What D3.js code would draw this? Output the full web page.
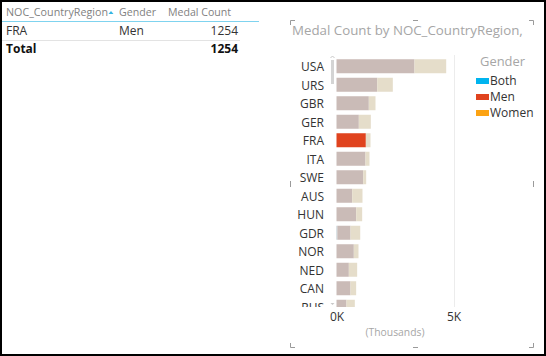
<!DOCTYPE html>
<html>
<head>
<meta charset="utf-8">
<script src="https://cdn.jsdelivr.net/npm/d3@7/dist/d3.min.js"></script>
<style>
  html, body { margin: 0; padding: 0; background: #fff; }
  svg { display: block; font-family: "Segoe UI", "Open Sans", sans-serif; }
</style>
</head>
<body>
<svg id="chart" width="546" height="356"></svg>
<script>
// ---- data ----
const countries = ["USA","URS","GBR","GER","FRA","ITA","SWE","AUS","HUN","GDR","NOR","NED","CAN","RUS"];
const bothValues  = [0,0,0,0,0,0,0,0,0,40,0,0,0,0];
const menValues   = [3333,1739,1381,954,1254,1239,1140,670,840,560,740,527,598,427];
const womenValues = [1355,668,286,513,199,171,128,441,257,414,200,356,242,356];
const genders = ["Both","Men","Women"];
const xTickValues = [0, 5000];
const selectedCountry = "FRA";
const selectedGender = "Men";
const tableHeaders = ["NOC_CountryRegion","Gender","Medal Count"];
const tableRow = ["FRA","Men","1254"];
const tableTotal = ["Total","","1254"];
const chartTitle = "Medal Count by NOC_CountryRegion,";
const axisTitle = "(Thousands)";

const fullColor = {Both:"#00b4ef", Men:"#e0431e", Women:"#fca313"};
const dimColor  = {Both:"#b7c6cc", Men:"#cabbb7", Women:"#e5ddca"};

const svg = d3.select("#chart");

function fitWidth(sel, w) {
  const node = sel.node();
  const cur = parseFloat(sel.attr("font-size"));
  const len = node.getComputedTextLength();
  if (len > 0) sel.attr("font-size", (cur * w / len).toFixed(2));
  return sel;
}

// outer frame
svg.append("rect").attr("x",1).attr("y",1).attr("width",544).attr("height",354)
  .attr("fill","#fff").attr("stroke","#000").attr("stroke-width",2);

// ---- table ----
const tbl = svg.append("g");
fitWidth(tbl.append("text").attr("x",6).attr("y",16).attr("font-size",12).attr("fill","#7f7f7f").text(tableHeaders[0]), 102);
tbl.append("path").attr("d","M108.5,14 L111,11 L113.5,14 Z").attr("fill","#34b6e4");
fitWidth(tbl.append("text").attr("x",119).attr("y",16).attr("font-size",12).attr("fill","#7f7f7f").text(tableHeaders[1]), 37);
fitWidth(tbl.append("text").attr("x",231).attr("y",16).attr("font-size",12).attr("text-anchor","end").attr("fill","#7f7f7f").text(tableHeaders[2]), 63);
tbl.append("line").attr("x1",2).attr("x2",259).attr("y1",21.5).attr("y2",21.5).attr("stroke","#7fd3ef").attr("stroke-width",1);
tbl.append("text").attr("x",6).attr("y",35).attr("font-size",12).attr("fill","#333").text(tableRow[0]);
tbl.append("text").attr("x",119).attr("y",35).attr("font-size",12).attr("fill","#333").text(tableRow[1]);
tbl.append("text").attr("x",238).attr("y",35).attr("font-size",12).attr("text-anchor","end").attr("fill","#333").text(tableRow[2]);
tbl.append("line").attr("x1",2).attr("x2",240).attr("y1",40.5).attr("y2",40.5).attr("stroke","#e3e3e3");
tbl.append("text").attr("x",6).attr("y",53).attr("font-size",12).attr("font-weight","bold").attr("fill","#111").text(tableTotal[0]);
tbl.append("text").attr("x",238).attr("y",53).attr("font-size",12).attr("font-weight","bold").attr("text-anchor","end").attr("fill","#111").text(tableTotal[2]);

// ---- visual frame marks ----
const marks = svg.append("g").attr("stroke","#9a9a9a").attr("fill","none").attr("stroke-width",1);
marks.append("path").attr("d","M290.5,25 V20.5 H295");
marks.append("path").attr("d","M413,20.5 H418");
marks.append("path").attr("d","M529,20.5 H533.5 V25");
marks.append("path").attr("d","M290.5,343 V347.5 H295");
marks.append("path").attr("d","M413,347.5 H418");
marks.append("path").attr("d","M529,347.5 H533.5 V343");
marks.append("path").attr("d","M290.5,181 V187");
marks.append("path").attr("d","M533.5,181 V187");

// title
fitWidth(svg.append("text").attr("x",292).attr("y",35).attr("font-size",14).attr("fill","#a6a6a6").text(chartTitle), 231);

// ---- scales ----
const x = d3.scaleLinear().domain([0, 5000]).range([336.5, 453.5]);
const y = d3.scaleBand().domain(countries).range([57, 57 + 18.5 * countries.length]).paddingInner(4.5/18.5).paddingOuter(2.25/18.5);

const rows = countries.map((c, i) => ({country: c, Both: bothValues[i], Men: menValues[i], Women: womenValues[i]}));
const stacked = d3.stack().keys(genders)(rows);

// clip
svg.append("clipPath").attr("id","plotclip").append("rect").attr("x",290).attr("y",50).attr("width",240).attr("height",257);

// gridline
svg.append("g").selectAll("line").data(xTickValues.filter(d => d > 0)).join("line")
  .attr("x1", d => Math.round(x(d)) + 0.5).attr("x2", d => Math.round(x(d)) + 0.5)
  .attr("y1", 55).attr("y2", 307).attr("stroke", "#ececec");

const plot = svg.append("g").attr("clip-path","url(#plotclip)");

plot.selectAll("g.series").data(stacked).join("g").attr("class","series")
  .each(function(s) {
    d3.select(this).selectAll("rect").data(s).join("rect")
      .attr("x", d => x(d[0]))
      .attr("width", d => Math.max(0, x(d[1]) - x(d[0])))
      .attr("y", d => y(d.data.country))
      .attr("height", y.bandwidth())
      .attr("fill", d => (d.data.country === selectedCountry && s.key === selectedGender) ? fullColor[s.key] : dimColor[s.key]);
  });

// y axis
const yAxis = plot.append("g").attr("transform","translate(336,0)")
  .call(d3.axisLeft(y).tickSize(0).tickPadding(12));
yAxis.select(".domain").remove();
yAxis.selectAll("text").attr("font-size",12).attr("fill","#333").attr("dy","0.42em")
  .attr("font-family","'Segoe UI','Open Sans',sans-serif");

// scrollbar
svg.append("rect").attr("x",331).attr("y",60).attr("width",3).attr("height",24).attr("fill","#d4d4d4");
svg.append("path").attr("d","M330.5,58 L332.5,56 L334.5,58").attr("stroke","#c8c8c8").attr("fill","none");
svg.append("path").attr("d","M330.5,303 L332.5,305 L334.5,303 Z").attr("fill","#c8c8c8");

// x axis
const xAxis = svg.append("g").attr("transform","translate(0,308)")
  .call(d3.axisBottom(x).tickValues(xTickValues).tickSize(0).tickPadding(4).tickFormat(d => (d/1000) + "K"));
xAxis.select(".domain").remove();
xAxis.selectAll("text").attr("font-size",12).attr("fill","#333").attr("dy","0.71em")
  .attr("font-family","'Segoe UI','Open Sans',sans-serif");

fitWidth(svg.append("text").attr("x",395).attr("y",336).attr("font-size",12).attr("text-anchor","middle").attr("fill","#a6a6a6").text(axisTitle), 59);

// ---- legend ----
const lg = svg.append("g");
fitWidth(lg.append("text").attr("x",480).attr("y",66).attr("font-size",14).attr("fill","#a6a6a6").text("Gender"), 45);
const items = lg.selectAll("g.item").data(genders).join("g").attr("class","item")
  .attr("transform", (d, i) => `translate(476,${78 + i * 16})`);
items.append("rect").attr("width",13).attr("height",6).attr("fill", d => fullColor[d]);
items.append("text").attr("x",14).attr("y",6.5).attr("font-size",12).attr("fill","#333").text(d => d);
</script>
</body>
</html>
